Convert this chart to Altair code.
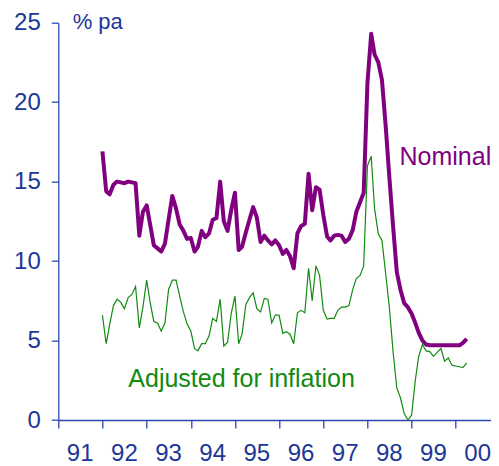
import altair as alt
import pandas as pd

# ---- data (monthly, Jan 1992 - Apr 2000) ----
months = pd.date_range("1992-01-01", periods=100, freq="MS").strftime("%Y-%m-%d").tolist()

nominal = [
    16.9, 14.4, 14.2, 14.8, 15.0, 14.95, 14.9, 15.0, 14.95, 14.9,
    11.6, 13.1, 13.5, 12.2, 11.0, 10.8, 10.6, 11.1, 12.6, 14.1,
    13.3, 12.3, 11.9, 11.4, 11.45, 10.6, 10.9, 11.9, 11.5, 11.75,
    12.6, 12.7, 15.0, 12.5, 11.9, 13.2, 14.3, 10.7, 10.9, 11.8,
    12.6, 13.4, 12.75, 11.2, 11.6, 11.3, 11.05, 11.3, 11.0, 10.45,
    10.7, 10.3, 9.55, 11.75, 12.2, 12.35, 15.5, 13.2, 14.65, 14.5,
    12.9, 11.55, 11.3, 11.6, 11.65, 11.6, 11.2, 11.4, 11.95, 13.1,
    13.7, 14.3, 21.2, 24.3, 23.0, 22.5, 21.4, 18.5, 15.3, 12.2,
    9.3, 8.2, 7.35, 7.1, 6.7, 6.1, 5.5, 5.0, 4.75, 4.7,
    4.7, 4.7, 4.7, 4.7, 4.7, 4.7, 4.7, 4.7, 4.85, 5.1,
]

adjusted = [
    6.6, 4.8, 6.0, 7.2, 7.6, 7.4, 7.0, 7.7, 7.9, 8.4,
    5.8, 7.1, 8.8, 7.3, 6.2, 6.1, 5.6, 6.1, 8.2, 8.8,
    8.8, 7.8, 6.8, 6.05, 5.6, 4.5, 4.35, 4.8, 4.8, 5.3,
    6.4, 6.2, 7.6, 4.65, 4.9, 6.7, 7.8, 4.8, 5.4, 7.25,
    7.7, 8.0, 7.0, 6.8, 7.65, 7.6, 6.1, 6.6, 6.6, 5.45,
    5.55, 5.4, 4.8, 6.75, 6.9, 6.75, 9.55, 7.5, 9.7, 9.1,
    6.9, 6.35, 6.4, 6.4, 6.9, 7.1, 7.1, 7.2, 8.2, 8.9,
    9.1, 9.7, 16.0, 16.6, 13.3, 11.7, 11.3, 9.2, 7.1, 4.3,
    2.0, 1.4, 0.4, 0.0, 0.3, 2.5, 4.0, 4.75, 4.35, 4.3,
    4.0, 4.25, 4.5, 3.7, 3.9, 3.45, 3.4, 3.35, 3.3, 3.6,
]

year_labels = ["91", "92", "93", "94", "95", "96", "97", "98", "99", "00"]
year_label_dates = ["1991-07-01", "1992-07-01", "1993-07-01", "1994-07-01", "1995-07-01",
                    "1996-07-01", "1997-07-01", "1998-07-01", "1999-07-01", "2000-07-01"]
tick_years = [1991, 1992, 1993, 1994, 1995, 1996, 1997, 1998, 1999, 2000]
y_ticks = [0, 5, 10, 15, 20, 25]

# ---- style ----
W, H = 432.7, 397.3
PURPLE = "#800080"
GREEN = "#128a12"
AXIS = "#2a48b4"
LABEL = "#1c3796"
FONT = "Liberation Sans"

df_nom = pd.DataFrame({"date": months, "value": nominal})
df_adj = pd.DataFrame({"date": months, "value": adjusted})
df_years = pd.DataFrame({"date": year_label_dates, "label": year_labels})

x_scale = alt.Scale(type="utc",
                    domain=[alt.DateTime(year=1991, month=1, date=1, utc=True),
                            alt.DateTime(year=2000, month=10, date=19, utc=True)])
y_scale = alt.Scale(domain=[0, 25], nice=False)

x_axis = alt.Axis(values=[alt.DateTime(year=y, month=1, date=1, utc=True) for y in tick_years],
                  labels=False, tickSize=8, title=None, grid=False,
                  domainColor=AXIS, tickColor=AXIS, domainWidth=1.3, tickWidth=1.3)
y_axis = alt.Axis(values=y_ticks, tickSize=7, labelPadding=11, title=None, grid=False,
                  labelFontSize=24, labelColor=LABEL, labelFont=FONT,
                  domainColor=AXIS, tickColor=AXIS, domainWidth=1.3, tickWidth=1.3)

nom_line = alt.Chart(df_nom).mark_line(color=PURPLE, strokeWidth=4, strokeJoin="round").encode(
    x=alt.X("date:T", scale=x_scale, axis=x_axis),
    y=alt.Y("value:Q", scale=y_scale, axis=y_axis),
)
adj_line = alt.Chart(df_adj).mark_line(color=GREEN, strokeWidth=1.2).encode(
    x=alt.X("date:T", scale=x_scale, axis=x_axis),
    y=alt.Y("value:Q", scale=y_scale, axis=y_axis),
)
year_text = alt.Chart(df_years).mark_text(
    align="center", baseline="alphabetic", fontSize=24, color=LABEL, font=FONT
).encode(
    x=alt.X("date:T", scale=x_scale, axis=x_axis),
    y=alt.value(H + 41),
    text="label:N",
)

def note(txt, x, y, size, color):
    return alt.Chart(pd.DataFrame({"t": [txt]})).mark_text(
        align="left", baseline="alphabetic", fontSize=size, color=color, font=FONT
    ).encode(x=alt.value(x), y=alt.value(y), text="t:N")

chart = alt.layer(
    nom_line, adj_line, year_text,
    note("Nominal", 341.2, 142.3, 25, PURPLE),
    note("Adjusted for inflation", 70, 364.3, 25, GREEN),
    note("% pa", 14.4, 6.3, 22, LABEL),
).properties(
    width=W, height=H,
    autosize=alt.AutoSizeParams(type="none"),
    padding={"left": 50.3, "top": 14.7, "right": 0, "bottom": 50},
).configure_view(stroke=None)

chart.save("out.html", embed_options={"renderer": "svg", "actions": False})
